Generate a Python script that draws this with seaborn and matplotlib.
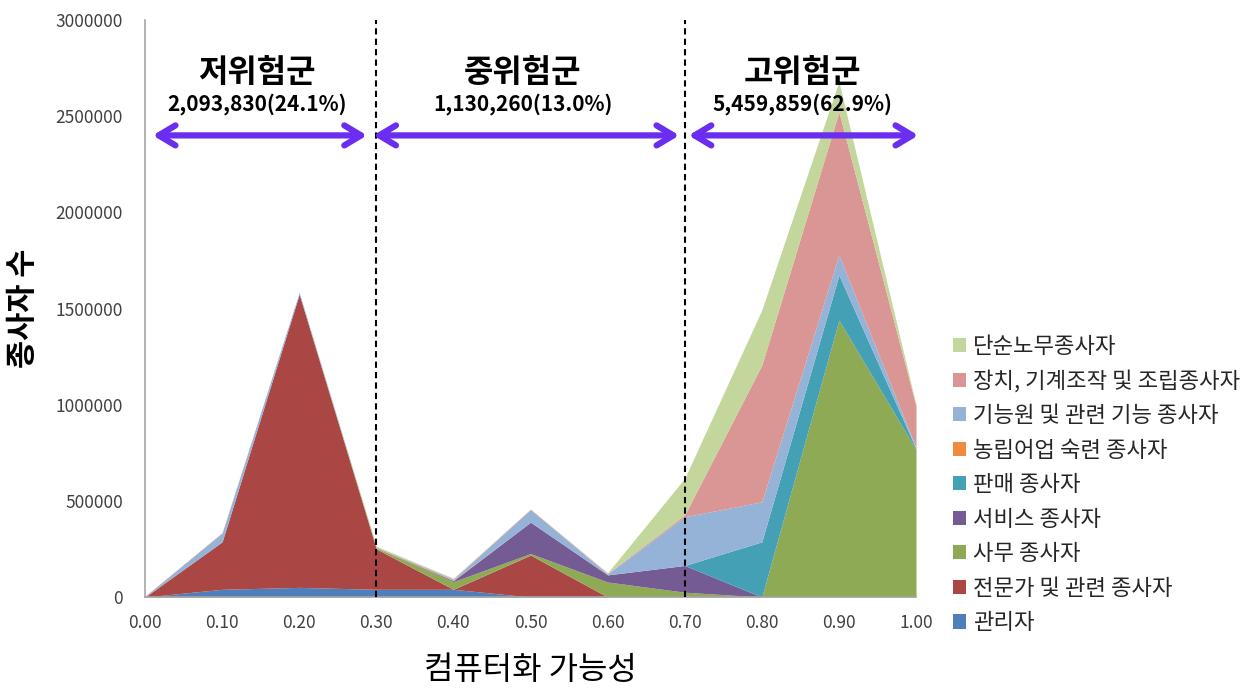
import numpy as np
import pandas as pd
import matplotlib
matplotlib.use("Agg")
import matplotlib.pyplot as plt
from matplotlib.patches import Patch
import seaborn as sns

# ---- data ----
x_vals = [0.0, 0.1, 0.2, 0.3, 0.4, 0.5, 0.6, 0.7, 0.8, 0.9, 1.0]
series_names = ["관리자", "전문가 및 관련 종사자", "사무 종사자", "서비스 종사자", "판매 종사자",
                "농립어업 숙련 종사자", "기능원 및 관련 기능 종사자", "장치, 기계조작 및 조립종사자", "단순노무종사자"]
manager      = [0, 40000, 50000, 40000, 40000, 0, 0, 0, 0, 0, 0]
professional = [0, 247000, 1524000, 210000, 0, 218000, 0, 0, 0, 0, 0]
clerical     = [0, 0, 0, 5000, 40000, 8000, 78000, 25000, 0, 1440000, 766000]
service      = [0, 0, 0, 0, 5000, 163000, 37000, 139000, 0, 0, 0]
sales        = [0, 0, 0, 0, 0, 0, 0, 0, 287000, 234000, 5000]
agri         = [0, 0, 0, 3000, 2000, 0, 0, 0, 0, 0, 0]
craft        = [3000, 46000, 10000, 3000, 5000, 65000, 5000, 253000, 208000, 104000, 5000]
machine      = [2000, 2000, 0, 0, 3000, 3000, 3000, 10000, 711000, 745000, 217000]
elementary   = [0, 0, 0, 3000, 3000, 0, 3000, 190000, 286000, 157000, 7000]
colors = ["#4F7FBA", "#AA4744", "#8FAA54", "#755B93", "#44A0B5",
          "#F08A3C", "#95B3D7", "#D99694", "#C3D69B"]

groups = ["저위험군", "중위험군", "고위험군"]
group_labels = ["2,093,830(24.1%)", "1,130,260(13.0%)", "5,459,859(62.9%)"]
group_centers = [0.145, 0.49, 0.852]
group_ranges = [(0.010, 0.288), (0.296, 0.693), (0.705, 1.003)]
boundaries = [0.3, 0.7]
x_ticks = [0.0, 0.1, 0.2, 0.3, 0.4, 0.5, 0.6, 0.7, 0.8, 0.9, 1.0]
y_ticks = [0, 500000, 1000000, 1500000, 2000000, 2500000, 3000000]

sns.set_theme(style="white")
plt.rcParams['font.family'] = ['Noto Sans CJK KR', 'DejaVu Sans']

df = pd.DataFrame({"x": x_vals})
data = [manager, professional, clerical, service, sales, agri, craft, machine, elementary]
for n, d in zip(series_names, data):
    df[n] = d

fig = plt.figure(figsize=(12.53, 6.92), dpi=100)
ax = fig.add_axes([145/1253, 1-597/692, (916-145)/1253, (597-20)/692])

ax.stackplot(df["x"], *[df[n] for n in series_names], colors=colors, linewidth=0)

ax.set_xlim(0, 1.0)
ax.set_ylim(0, 3000000)
ax.set_xticks(x_ticks)
ax.set_xticklabels([f"{v:.2f}" for v in x_ticks])
ax.set_yticks(y_ticks)
ax.set_yticklabels([str(v) for v in y_ticks])
ax.tick_params(axis='y', labelsize=12.5, colors="#404040", length=0, pad=16)
ax.tick_params(axis='x', labelsize=12.5, colors="#404040", length=0, pad=12)
sns.despine(ax=ax, top=True, right=True)
for s in ["left", "bottom"]:
    ax.spines[s].set_color("#A6A6A6")
    ax.spines[s].set_linewidth(1.2)

for b in boundaries:
    ax.axvline(b, color="black", linestyle=(0, (3, 2)), linewidth=1.5, zorder=5)

for g, lab, c, (a, b) in zip(groups, group_labels, group_centers, group_ranges):
    ax.text(c, 2725000, g, ha="center", va="center", fontsize=23, fontweight="bold", color="black")
    ax.text(c, 2562000, lab, ha="center", va="center", fontsize=15, fontweight="bold", color="black")
    ax.annotate("", xy=(a, 2400000), xytext=(b, 2400000),
                arrowprops=dict(arrowstyle="<->,head_length=1.0,head_width=0.6",
                                color="#6B2EF0", lw=4.5, shrinkA=0, shrinkB=0), zorder=6)

ax.set_ylabel("종사자 수", fontsize=22, fontweight="bold", labelpad=12, color="black")
ax.set_xlabel("컴퓨터화 가능성", fontsize=23, labelpad=16, color="black")

handles = [Patch(facecolor=c, edgecolor="none", label=n) for n, c in zip(series_names, colors)]
handles = handles[::-1]
leg = fig.legend(handles=handles, loc="upper left", bbox_to_anchor=(944/1253, 1-326/692),
                 frameon=False, fontsize=16, handlelength=0.6, handleheight=0.6,
                 handletextpad=0.3, labelspacing=0.52, borderaxespad=0)
for t in leg.get_texts():
    t.set_color("#262626")

fig.savefig("out.png", dpi=100)
